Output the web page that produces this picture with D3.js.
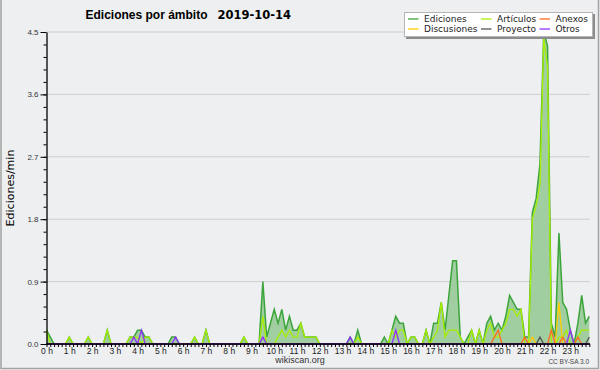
<!DOCTYPE html>
<html>
<head>
  <meta charset="utf-8">
  <title>Ediciones por ámbito</title>
  <script src="https://d3js.org/d3.v7.min.js"></script>
  <style>
    body { margin: 0; background: #eeeff1; }
  </style>
</head>
<body>
  <svg id="chart" width="600" height="370"></svg>

  <script type="text/javascript">
    // edits per minute, one value per 10 minutes (144 slots), each line = 2 hours
    var ediciones = [
      0.2, 0.1, 0, 0, 0, 0, 0.1, 0, 0, 0, 0, 0.1,
      0, 0, 0, 0, 0.2, 0, 0, 0, 0, 0, 0.1, 0.1,
      0.2, 0.2, 0.1, 0.1, 0, 0, 0, 0, 0, 0.1, 0.1, 0,
      0, 0, 0, 0.1, 0, 0, 0.2, 0, 0, 0, 0, 0,
      0, 0, 0, 0, 0.1, 0, 0, 0, 0, 0.9, 0.1, 0.3,
      0.5, 0.3, 0.5, 0.2, 0.4, 0.2, 0.2, 0.3, 0.1, 0.1, 0.1, 0.1,
      0, 0, 0, 0, 0, 0, 0, 0, 0.1, 0, 0.2, 0,
      0, 0, 0, 0, 0, 0.1, 0, 0.2, 0.4, 0.3, 0.3, 0,
      0.1, 0.1, 0, 0, 0.2, 0, 0.3, 0.3, 0.6, 0.2, 0.7, 1.2,
      1.2, 0.1, 0, 0.1, 0.2, 0, 0.2, 0, 0.3, 0.4, 0.2, 0.3,
      0.2, 0.4, 0.7, 0.6, 0.5, 0.5, 0.1, 0.1, 1.9, 2.1, 2.6, 4.5,
      4.3, 0.3, 0.1, 1.6, 0.6, 0.5, 0.2, 0, 0.3, 0.7, 0.3, 0.4
    ]
    var articulos = [
      0.2, 0, 0, 0, 0, 0, 0.1, 0, 0, 0, 0, 0.1,
      0, 0, 0, 0, 0.2, 0, 0, 0, 0, 0, 0.1, 0.1,
      0.1, 0, 0.1, 0.1, 0, 0, 0, 0, 0, 0, 0, 0,
      0, 0, 0, 0.1, 0, 0, 0.2, 0, 0, 0, 0, 0,
      0, 0, 0, 0, 0.1, 0, 0, 0, 0, 0.4, 0, 0,
      0, 0.1, 0.2, 0.1, 0.2, 0.1, 0.1, 0.3, 0.1, 0.1, 0.1, 0.1,
      0, 0, 0, 0, 0, 0, 0, 0, 0, 0, 0.1, 0,
      0, 0, 0, 0, 0, 0, 0, 0.2, 0.1, 0.2, 0.2, 0,
      0.1, 0.1, 0, 0, 0.2, 0, 0.1, 0.2, 0.6, 0.1, 0.2, 0.2,
      0.2, 0.1, 0, 0, 0.2, 0, 0.2, 0, 0.2, 0.3, 0.1, 0.1,
      0.2, 0.3, 0.5, 0.5, 0.4, 0.5, 0, 0, 1.8, 2.0, 2.3, 4.4,
      4.0, 0, 0, 0.1, 0.1, 0.2, 0, 0, 0.1, 0.2, 0.2, 0.2
    ]
    var anexos = [
      0, 0, 0, 0, 0, 0, 0, 0, 0, 0, 0, 0,
      0, 0, 0, 0, 0, 0, 0, 0, 0, 0, 0, 0,
      0, 0, 0, 0, 0, 0, 0, 0, 0, 0, 0, 0,
      0, 0, 0, 0, 0, 0, 0, 0, 0, 0, 0, 0,
      0, 0, 0, 0, 0, 0, 0, 0, 0, 0, 0, 0,
      0, 0, 0, 0, 0, 0, 0, 0, 0, 0, 0, 0,
      0, 0, 0, 0, 0, 0, 0, 0, 0, 0, 0, 0,
      0, 0, 0, 0, 0, 0, 0, 0, 0, 0, 0, 0,
      0, 0, 0, 0, 0, 0, 0, 0, 0, 0, 0, 0,
      0, 0, 0, 0, 0, 0, 0, 0, 0, 0, 0.1, 0.2,
      0, 0, 0, 0, 0, 0, 0.1, 0, 0, 0, 0, 0,
      0, 0.2, 0, 0, 0.1, 0, 0, 0, 0.1, 0, 0, 0
    ]
    var discusiones = [
      0, 0, 0, 0, 0, 0, 0, 0, 0, 0, 0, 0,
      0, 0, 0, 0, 0, 0, 0, 0, 0, 0, 0, 0,
      0, 0, 0, 0, 0, 0, 0, 0, 0, 0, 0, 0,
      0, 0, 0, 0, 0, 0, 0, 0, 0, 0, 0, 0,
      0, 0, 0, 0, 0, 0, 0, 0, 0, 0, 0, 0,
      0, 0, 0, 0, 0, 0, 0, 0, 0, 0, 0, 0,
      0, 0, 0, 0, 0, 0, 0, 0, 0, 0, 0, 0,
      0, 0, 0, 0, 0, 0, 0, 0, 0, 0, 0, 0,
      0, 0, 0, 0, 0, 0, 0, 0, 0, 0, 0, 0,
      0, 0, 0, 0, 0, 0, 0, 0, 0, 0, 0, 0,
      0, 0, 0, 0, 0, 0, 0, 0, 0.1, 0, 0, 0,
      0, 0, 0, 0.6, 0, 0, 0, 0, 0, 0, 0, 0
    ]
    var proyecto = [
      0, 0, 0, 0, 0, 0, 0, 0, 0, 0, 0, 0,
      0, 0, 0, 0, 0, 0, 0, 0, 0, 0, 0, 0,
      0, 0, 0, 0, 0, 0, 0, 0, 0, 0, 0, 0,
      0, 0, 0, 0, 0, 0, 0, 0, 0, 0, 0, 0,
      0, 0, 0, 0, 0, 0, 0, 0, 0, 0, 0, 0,
      0, 0, 0, 0, 0, 0, 0, 0, 0, 0, 0, 0,
      0, 0, 0, 0, 0, 0, 0, 0, 0, 0, 0, 0,
      0, 0, 0, 0, 0, 0, 0, 0, 0, 0, 0, 0,
      0, 0, 0, 0, 0, 0, 0, 0, 0, 0, 0, 0,
      0, 0, 0, 0, 0, 0, 0, 0, 0, 0, 0, 0,
      0, 0, 0, 0, 0, 0, 0, 0, 0, 0, 0.1, 0,
      0, 0, 0, 0, 0, 0, 0, 0, 0, 0, 0, 0.1
    ]
    var otros = [
      0, 0, 0, 0, 0, 0, 0, 0, 0, 0, 0, 0,
      0, 0, 0, 0, 0, 0, 0, 0, 0, 0, 0, 0.1,
      0, 0.2, 0, 0, 0, 0, 0, 0, 0, 0, 0.1, 0,
      0, 0, 0, 0, 0, 0, 0, 0, 0, 0, 0, 0,
      0, 0, 0, 0, 0, 0, 0, 0, 0, 0.1, 0, 0,
      0, 0, 0, 0, 0, 0, 0, 0, 0, 0, 0, 0,
      0, 0, 0, 0, 0, 0, 0, 0, 0.1, 0, 0, 0,
      0, 0, 0, 0, 0, 0, 0, 0, 0.2, 0, 0, 0,
      0, 0, 0, 0, 0, 0, 0, 0, 0, 0, 0, 0,
      0, 0, 0, 0, 0, 0, 0, 0, 0, 0, 0, 0,
      0, 0, 0, 0, 0, 0, 0, 0, 0, 0, 0, 0,
      0, 0, 0, 0, 0, 0, 0.2, 0, 0, 0, 0, 0
    ]
    var yTicks = [0.0, 0.9, 1.8, 2.7, 3.6, 4.5]
    var hourLabels = ["0 h", "1 h", "2 h", "3 h", "4 h", "5 h", "6 h", "7 h", "8 h", "9 h", "10 h", "11 h",
      "12 h", "13 h", "14 h", "15 h", "16 h", "17 h", "18 h", "19 h", "20 h", "21 h", "22 h", "23 h"]
    var legendNames = ["Ediciones", "Artículos", "Anexos", "Discusiones", "Proyecto", "Otros"]

    var colors = {
      "Ediciones": "#3ba53b",
      "Artículos": "#a8ee00",
      "Anexos": "#ff6a22",
      "Discusiones": "#ffcc00",
      "Proyecto": "#555555",
      "Otros": "#9030ff"
    }
    var series = [
      { name: "Ediciones", values: ediciones },
      { name: "Artículos", values: articulos },
      { name: "Discusiones", values: discusiones },
      { name: "Anexos", values: anexos },
      { name: "Proyecto", values: proyecto },
      { name: "Otros", values: otros }
    ]

    var svg = d3.select("#chart")
    var plotLeft = 46.5, plotRight = 589.3, plotTop = 32, plotBottom = 344
    var x = d3.scaleLinear().domain([0, 143]).range([plotLeft, plotRight])
    var y = d3.scaleLinear().domain([0, 4.5]).range([plotBottom, plotTop])

    svg.append("rect").attr("width", 600).attr("height", 370).attr("fill", "#eeeff1")
    svg.append("path")
      .attr("d", "M1,0 V368.5 H598.5 V0")
      .attr("fill", "none").attr("stroke", "#a3a3a3").attr("stroke-width", 1.5)

    // grid
    svg.append("g").selectAll("line")
      .data(yTicks.slice(1))
      .enter().append("line")
      .attr("x1", plotLeft).attr("x2", 590)
      .attr("y1", d => y(d)).attr("y2", d => y(d))
      .attr("stroke", "#cdcdcd").attr("stroke-width", 1)

    // area + lines
    var area = d3.area().x((d, i) => x(i)).y0(y(0)).y1(d => y(d))
    var line = d3.line().x((d, i) => x(i)).y(d => y(d))
    svg.append("path").datum(ediciones)
      .attr("d", area).attr("fill", "#a0cea0")
    svg.append("g").selectAll("path")
      .data(series)
      .enter().append("path")
      .attr("d", d => line(d.values))
      .attr("fill", "none")
      .attr("stroke", d => colors[d.name])
      .attr("stroke-width", d => d.name == "Ediciones" ? 1.5 : 1.3)

    // y axis
    var yAxis = svg.append("g").attr("transform", "translate(" + plotLeft + ",0)")
      .call(d3.axisLeft(y).tickValues(yTicks).tickSize(6).tickSizeOuter(0).tickPadding(2).tickFormat(d3.format(".1f")))
    yAxis.selectAll("text").attr("font-family", "Liberation Sans, Arial, sans-serif").attr("font-size", 8).attr("fill", "#333")
    yAxis.select(".domain").attr("stroke-width", 1.3)
    var minor = svg.append("g").attr("transform", "translate(" + plotLeft + ",0)")
      .call(d3.axisLeft(y).tickValues(d3.range(0, 4.5, 0.18)).tickSize(3).tickSizeOuter(0).tickFormat(""))
    minor.select(".domain").remove()

    // x axis: a tick every 10 minutes, label every hour
    var xAxis = svg.append("g").attr("transform", "translate(0," + plotBottom + ")")
      .call(d3.axisBottom(x).tickValues(d3.range(144)).tickSize(3).tickSizeOuter(0).tickPadding(1)
        .tickFormat(i => i % 6 == 0 ? hourLabels[i / 6] : ""))
    xAxis.selectAll("text").attr("font-family", "Liberation Sans, Arial, sans-serif").attr("font-size", 8.5).attr("fill", "#222")
    xAxis.select(".domain").attr("d", "M" + plotLeft + ",0H590").attr("stroke-width", 1.3)

    // title
    svg.append("text").attr("x", 85.5).attr("y", 18.5)
      .attr("font-family", "Liberation Sans, Arial, sans-serif").attr("font-weight", "bold").attr("font-size", 12)
      .text("Ediciones por ámbito")
    svg.append("text").attr("x", 217.5).attr("y", 18.5)
      .attr("font-family", "DejaVu Sans, sans-serif").attr("font-weight", "bold").attr("font-size", 11.5)
      .text("2019-10-14")

    // y label
    svg.append("text")
      .attr("transform", "translate(14,188) rotate(-90)")
      .attr("text-anchor", "middle")
      .attr("font-family", "DejaVu Sans, sans-serif").attr("font-size", 11)
      .text("Ediciones/min")

    // legend
    var legend = svg.append("g")
    legend.append("rect").attr("x", 406).attr("y", 14).attr("width", 189).attr("height", 25).attr("fill", "#8c8c8c")
    legend.append("rect").attr("x", 404.5).attr("y", 12.5).attr("width", 188).attr("height", 24)
      .attr("fill", "#ffffff").attr("stroke", "#b5b5b5")
    var colX = [408, 481, 539.5]
    var item = legend.selectAll("g.item")
      .data(legendNames)
      .enter().append("g")
      .attr("transform", (d, i) => "translate(" + colX[i % 3] + "," + (19 + Math.floor(i / 3) * 10) + ")")
    item.append("line").attr("x1", 0).attr("x2", 10.5)
      .attr("stroke", d => colors[d]).attr("stroke-width", 1.3)
    item.append("text").attr("x", 16).attr("y", 3.3)
      .attr("font-family", "DejaVu Sans, sans-serif").attr("font-size", 9).attr("fill", "#222")
      .text(d => d)

    // footer
    svg.append("text").attr("x", 300).attr("y", 363).attr("text-anchor", "middle")
      .attr("font-family", "Liberation Sans, Arial, sans-serif").attr("font-size", 9).attr("fill", "#333")
      .text("wikiscan.org")
    svg.append("text").attr("x", 589).attr("y", 364).attr("text-anchor", "end")
      .attr("font-family", "Liberation Sans, Arial, sans-serif").attr("font-size", 6.5).attr("fill", "#444")
      .text("CC BY-SA 3.0")
  </script>
</body>
</html>
